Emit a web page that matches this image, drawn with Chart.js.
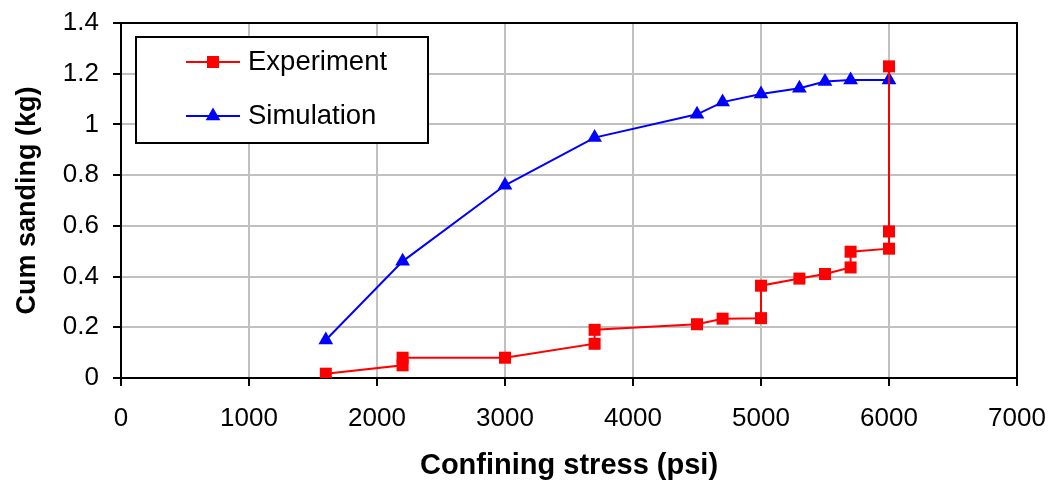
<!DOCTYPE html>
<html>
<head>
<meta charset="utf-8">
<script src="https://cdn.jsdelivr.net/npm/chart.js@4.4.0/dist/chart.umd.min.js"></script>
<style>
    html, body { margin: 0; padding: 0; background: #fff; }
    #wrap { width: 1050px; height: 485px; }
</style>
</head>
<body>
<div id="wrap"><canvas id="sanding"></canvas></div>
<script>
var expStress = [1600, 2200, 2200, 3000, 3700, 3700, 4500, 4700, 5000, 5000, 5300, 5500, 5700, 5700, 6000, 6000, 6000];
var expSand = [0.017, 0.05, 0.08, 0.08, 0.135, 0.19, 0.212, 0.234, 0.236, 0.364, 0.392, 0.41, 0.436, 0.498, 0.51, 0.578, 1.229];
var simStress = [1600, 2200, 3000, 3700, 4500, 4700, 5000, 5300, 5500, 5700, 6000];
var simSand = [0.15, 0.46, 0.76, 0.948, 1.04, 1.088, 1.12, 1.143, 1.169, 1.175, 1.175];
var xTicks = [0, 1000, 2000, 3000, 4000, 5000, 6000, 7000];
var xTickLabels = ["0", "1000", "2000", "3000", "4000", "5000", "6000", "7000"];
var yTicks = [0, 0.2, 0.4, 0.6, 0.8, 1, 1.2, 1.4];
var yTickLabels = ["0", "0.2", "0.4", "0.6", "0.8", "1", "1.2", "1.4"];

function pairs(xs, ys){
    var out = [];
    for (var i = 0; i < xs.length; i++) out.push({x: xs[i], y: ys[i]});
    return out;
}
function nearestLabel(value, ticks, labels){
    var best = 0;
    for (var i = 1; i < ticks.length; i++){
        if (Math.abs(ticks[i] - value) < Math.abs(ticks[best] - value)) best = i;
    }
    return labels[best];
}

// box round the plot area
var frame = {
    id: 'frame',
    beforeDatasetsDraw: function(chart){
        var ctx = chart.ctx, a = chart.chartArea;
        ctx.save();
        ctx.strokeStyle = '#000';
        ctx.lineWidth = 2;
        ctx.strokeRect(a.left, a.top, a.right - a.left, a.bottom - a.top);
        ctx.restore();
    }
};

// legend sits inside the plot, top left
var legendBox = {
    id: 'legendBox',
    afterDraw: function(chart){
        var ctx = chart.ctx, a = chart.chartArea;
        var x = a.left + 15, y = a.top + 14, w = 292, h = 106;
        ctx.save();
        ctx.fillStyle = '#fff';
        ctx.fillRect(x, y, w, h);
        ctx.lineWidth = 2;
        ctx.strokeStyle = '#000';
        ctx.strokeRect(x, y, w, h);
        chart.data.datasets.forEach(function(ds, i){
            var ly = y + 25 + i * 54;
            ctx.strokeStyle = ds.borderColor;
            ctx.lineWidth = ds.borderWidth;
            ctx.beginPath();
            ctx.moveTo(x + 50, ly);
            ctx.lineTo(x + 104, ly);
            ctx.stroke();
            ctx.fillStyle = ds.pointBackgroundColor;
            Chart.helpers.drawPoint(ctx, {pointStyle: ds.pointStyle, radius: ds.pointRadius, rotation: 0, borderWidth: 0}, x + 77, ly);
            ctx.fillStyle = '#000';
            ctx.font = '27.5px "Liberation Sans", Arial, sans-serif';
            ctx.textBaseline = 'middle';
            ctx.textAlign = 'left';
            ctx.fillText(ds.label, x + 112, ly);
        });
        ctx.restore();
    }
};

var ctxS = document.getElementById("sanding").getContext('2d');
var sandChart = new Chart(ctxS, {
    type: 'scatter',
    data: {
        datasets: [
            {
                label: "Experiment",
                data: pairs(expStress, expSand),
                showLine: true,
                borderColor: "#ff0000",
                borderWidth: 2,
                pointStyle: 'rect',
                pointRadius: 8.5,
                pointBackgroundColor: "#ff0000",
                pointBorderWidth: 0,
                tension: 0
            },
            {
                label: "Simulation",
                data: pairs(simStress, simSand),
                showLine: true,
                borderColor: "#0000ff",
                borderWidth: 2,
                pointStyle: 'triangle',
                pointRadius: 8.5,
                pointBackgroundColor: "#0000ff",
                pointBorderWidth: 0,
                tension: 0
            }
        ]
    },
    options: {
        responsive: true,
        maintainAspectRatio: false,
        animation: false,
        layout: { padding: { top: 23, right: 33, left: 0, bottom: 0 } },
        plugins: {
            legend: { display: false },
            tooltip: { enabled: false }
        },
        scales: {
            x: {
                type: 'linear',
                min: 0,
                max: 7000,
                afterFit: function(scale){
                    scale.height = 107;
                    scale.paddingLeft = 0;
                    scale.paddingRight = 0;
                },
                ticks: {
                    stepSize: 1000,
                    color: '#000',
                    padding: 17,
                    maxRotation: 0,
                    font: { family: '"Liberation Sans", Arial', size: 26 },
                    callback: function(v){ return nearestLabel(v, xTicks, xTickLabels); }
                },
                grid: { color: '#c0c0c0', lineWidth: 2, tickColor: '#000', tickLength: 8, tickWidth: 2 },
                border: { color: '#000', width: 2 },
                title: {
                    display: true,
                    text: 'Confining stress (psi)',
                    color: '#000',
                    padding: { top: 0, bottom: 2 },
                    font: { family: '"Liberation Sans", Arial', size: 29, weight: 'bold' }
                }
            },
            y: {
                min: 0,
                max: 1.4,
                afterFit: function(scale){
                    scale.width = 121;
                    scale.paddingTop = 0;
                    scale.paddingBottom = 0;
                },
                ticks: {
                    stepSize: 0.2,
                    color: '#000',
                    padding: 14,
                    font: { family: '"Liberation Sans", Arial', size: 26 },
                    callback: function(v){ return nearestLabel(v, yTicks, yTickLabels); }
                },
                grid: { color: '#c0c0c0', lineWidth: 2, tickColor: '#000', tickLength: 8, tickWidth: 2 },
                border: { color: '#000', width: 2 },
                title: {
                    display: true,
                    text: 'Cum sanding (kg)',
                    color: '#000',
                    padding: { top: 11, bottom: 0 },
                    font: { family: '"Liberation Sans", Arial', size: 27, weight: 'bold' }
                }
            }
        }
    },
    plugins: [frame, legendBox]
});
</script>
</body>
</html>
